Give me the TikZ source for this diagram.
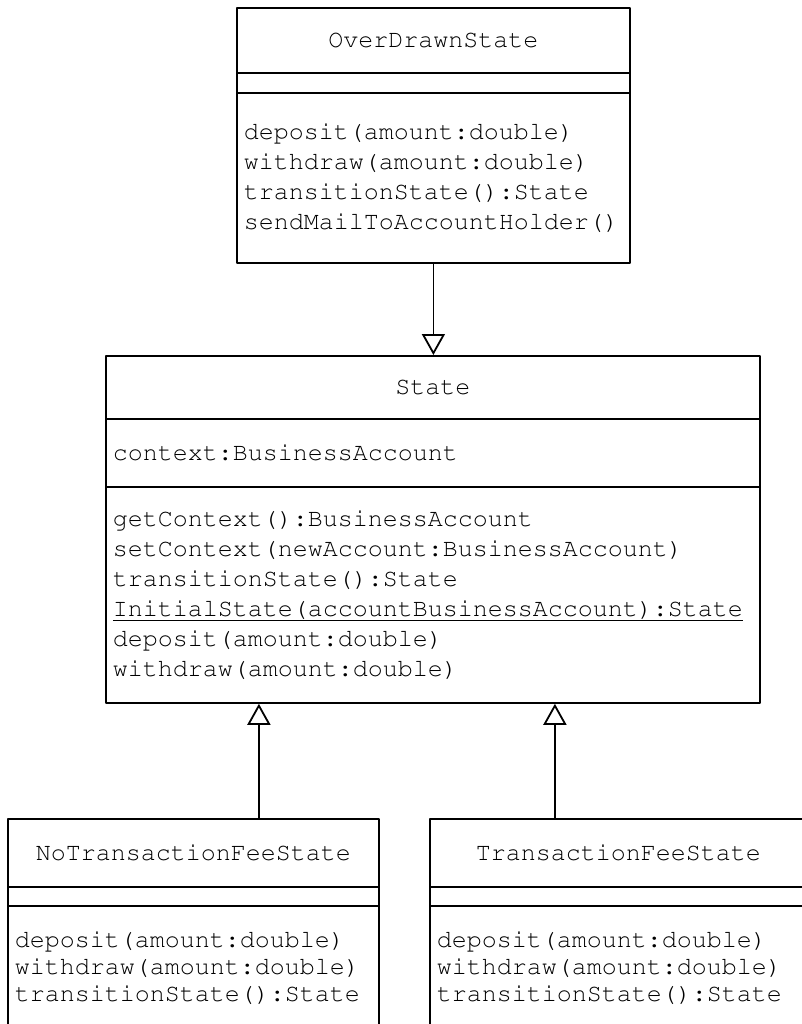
\documentclass[tikz,border=0pt]{standalone}
\usepackage[T1]{fontenc}
\usepackage{courier}
\usetikzlibrary{arrows.meta}
\tikzset{
  part/.style={draw, line width=1.8pt, anchor=north west, inner sep=0pt,
    font=\ttfamily\fontsize{25}{30}\selectfont},
  namepart/.style={part, align=center},
  opspart/.style={part, align=left, inner xsep=7pt, text width=#1},
}
\begin{document}
\begin{tikzpicture}[x=1pt, y=-1pt, line join=round,
  >={Triangle[open,length=21pt,width=23pt]}]
\clip (0,0) rectangle (802,1024);
% OverDrawnState
\node[namepart, minimum width=393, minimum height=65] (od-name) at (236,7) {OverDrawnState};
\node[part, minimum width=393, minimum height=20] (od-attr) at (236,72) {};
\node[opspart=379, minimum height=170] (od-ops) at (236,92)
  {deposit(amount:double)\\withdraw(amount:double)\\transitionState():State\\sendMailToAccountHolder()};
% State
\node[namepart, minimum width=654, minimum height=63] (st-name) at (105,355) {State};
\node[opspart=640, minimum height=68] (st-attr) at (105,418) {context:BusinessAccount};
\node[opspart=640, minimum height=216] (st-ops) at (105,486)
  {getContext():BusinessAccount\\setContext(newAccount:BusinessAccount)\\transitionState():State\\
   \underline{InitialState(accountBusinessAccount):State}\\deposit(amount:double)\\withdraw(amount:double)};
% NoTransactionFeeState
\node[namepart, minimum width=371, minimum height=68] (nofee-name) at (7,818) {NoTransactionFeeState};
\node[part, minimum width=371, minimum height=19] (nofee-attr) at (7,886) {};
\node[opspart=357, minimum height=124, font=\ttfamily\fontsize{25}{27}\selectfont] (nofee-ops) at (7,905)
  {deposit(amount:double)\\withdraw(amount:double)\\transitionState():State};
% TransactionFeeState
\node[namepart, minimum width=377, minimum height=68] (fee-name) at (429,818) {TransactionFeeState};
\node[part, minimum width=377, minimum height=19] (fee-attr) at (429,886) {};
\node[opspart=363, minimum height=124, font=\ttfamily\fontsize{25}{27}\selectfont] (fee-ops) at (429,905)
  {deposit(amount:double)\\withdraw(amount:double)\\transitionState():State};
% generalisations
\coordinate (nofee-in) at ([xshift=65.5pt]nofee-name.north);
\coordinate (fee-in) at ([xshift=-63.5pt]fee-name.north);
\draw[->, line width=1.8pt] (od-ops.south) -- (od-ops.south |- st-name.north);
\draw[->, line width=1.8pt] (nofee-in) -- (nofee-in |- st-ops.south);
\draw[->, line width=1.8pt] (fee-in) -- (fee-in |- st-ops.south);
\end{tikzpicture}
\end{document}
